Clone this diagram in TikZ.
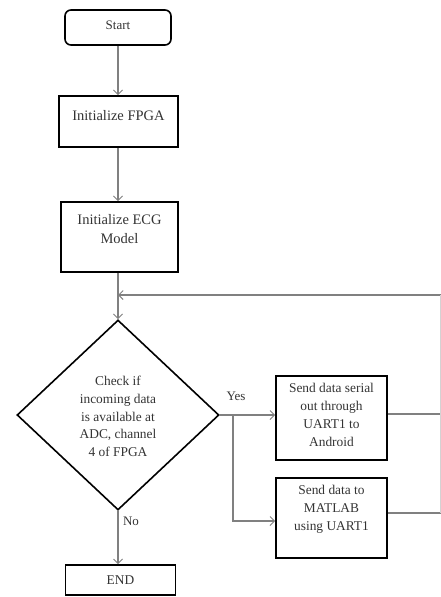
\documentclass[tikz,border=0pt]{standalone}
\usepackage{fontspec}
\setmainfont{Liberation Serif}
\usetikzlibrary{shapes.geometric,arrows.meta}
\definecolor{linegray}{HTML}{808080}
\definecolor{txtgray}{HTML}{333333}
\tikzset{
  box/.style={draw=black, line width=1.6pt, inner sep=0pt, text=txtgray},
  txt/.style={text=txtgray, align=center, inner sep=0pt, font=\fontsize{13.4}{17.8}\selectfont},
  bigtxt/.style={txt, font=\fontsize{14.5}{19}\selectfont},
  conn/.style={draw=linegray, line width=1.1pt},
  arr/.style={conn, -{Straight Barb[length=4.5pt,width=9pt,line width=1pt]}},
}
\begin{document}
\begin{tikzpicture}[x=1pt,y=-1pt]
\useasboundingbox (0,0) rectangle (441,597);
% boxes
\node[box, rounded corners=6pt, minimum width=106pt, minimum height=35pt] (start) at (118,27.5) {};
\node[txt, font=\fontsize{13}{16}\selectfont] (startt) at (118,25) {Start};
\node[box, minimum width=119pt, minimum height=51pt] (fpga) at (118.5,121.5) {};
\node[bigtxt] (fpgat) at (118.5,116) {Initialize FPGA};
\node[box, minimum width=117pt, minimum height=70pt] (ecg) at (119.5,237) {};
\node[bigtxt] (ecgt) at (119.5,229.5) {Initialize ECG\\Model};
\node[draw=black, line width=1.6pt, shape=diamond, inner sep=0pt, minimum width=202pt, minimum height=190pt] (dia) at (118,415) {};
\node[txt] (diat) at (118,416.5) {Check if\\incoming data\\is available at\\ADC, channel\\4 of FPGA};
\node[box, minimum width=111pt, minimum height=84pt] (b1) at (331.5,418) {};
\node[txt] (b1t) at (331.5,415) {Send data serial\\out through\\UART1 to\\Android};
\node[box, minimum width=111pt, minimum height=80pt] (b2) at (331.5,518) {};
\node[txt] (b2t) at (331.5,509.5) {Send data to\\MATLAB\\using UART1};
\node[box, minimum width=110pt, minimum height=30pt] (end) at (120.5,580) {};
\node[txt] (endt) at (120.5,580) {END};
% coordinates
\coordinate (loopin) at (118,295);
\coordinate (rtop) at (440.5,295);
\coordinate (r1) at (440.5,414);
\coordinate (r2) at (440.5,513);
\coordinate (split) at (233,415);
\coordinate (split2) at (233,521);
% connectors
\draw[arr] (start.south) -- (start.south |- fpga.north);
\draw[arr] (start.south |- fpga.south) -- (start.south |- ecg.north);
\draw[arr] (start.south |- ecg.south) -- (dia.north);
\draw[arr] (rtop) -- (loopin);
\draw[conn] (b1.east |- r1) -- (r1);
\draw[conn] (b2.east |- r2) -- (r2);
\draw[conn, draw=linegray!35] (r2) -- (rtop);
\draw[arr] (dia.east) -- (dia.east -| b1.west);
\draw[arr] (split) -- (split2) -- (split2 -| b2.west);
\draw[arr] (dia.south) -- (dia.south |- end.north);
\node[txt, font=\fontsize{13}{16}\selectfont] (yes) at (236,396) {Yes};
\node[txt, font=\fontsize{13}{16}\selectfont] (no) at (131,521) {No};
\end{tikzpicture}
\end{document}
